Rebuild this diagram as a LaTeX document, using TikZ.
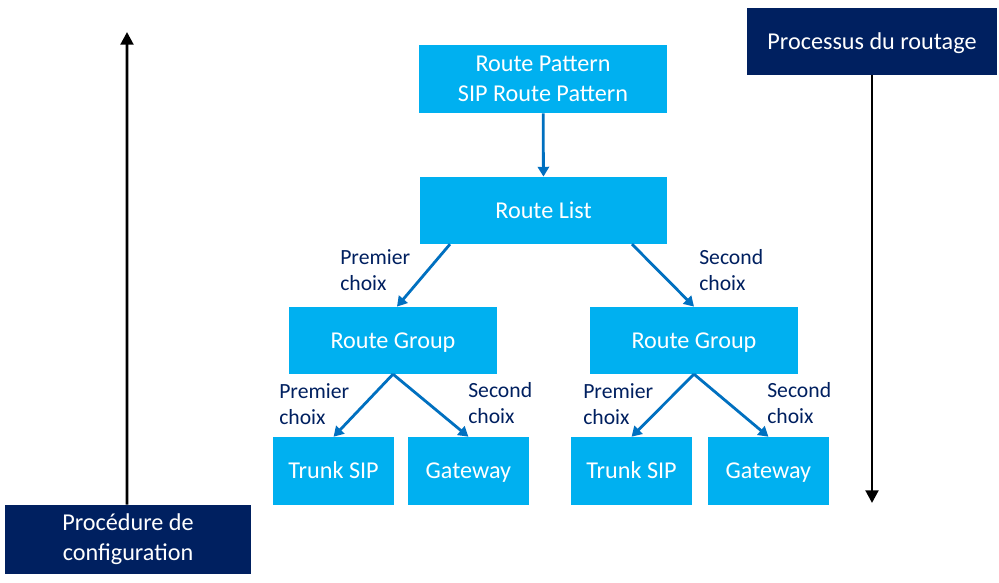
\documentclass[tikz,border=0pt]{standalone}
\usepackage{fontspec}
\setmainfont{Carlito}
\usetikzlibrary{arrows.meta,positioning}
\definecolor{boxcyan}{HTML}{00B0F0}
\definecolor{navyblue}{HTML}{002060}
\definecolor{arrblue}{HTML}{0070C0}

\begin{document}
\begin{tikzpicture}[
    elem/.style={fill=boxcyan, text=white, minimum width=5.2cm, minimum height=1.675cm, align=center, inner sep=0pt, font=\fontsize{17.2}{21.3}\selectfont},
    oneline/.style={text height=15pt, text depth=4pt},
    leaf/.style={elem, oneline, minimum width=3.025cm, minimum height=1.7cm},
    phase/.style={fill=navyblue, text=white, minimum height=1.7cm, align=center, inner sep=0pt, font=\fontsize{17.2}{21.3}\selectfont},
    arr/.style={-{Triangle[length=7pt, width=8pt]}, line width=2pt, arrblue},
    flow/.style={-{Triangle[length=9pt, width=9pt]}, line width=2.1pt, black},
    lbl/.style={anchor=west, align=left, inner sep=0pt, text=navyblue, font=\fontsize{15.4}{18.5}\selectfont}
]
\useasboundingbox (0,0) rectangle (24.975,14.55);
\fill[white] (0,0) rectangle (24.975,14.55);

\node[elem, minimum width=6.2cm, minimum height=1.7cm] (RP) at (13.575,12.575) {Route Pattern\\SIP Route Pattern};
\node[elem, oneline, minimum width=6.175cm] (RL) at (13.59,9.29) {Route List};
\node[elem, oneline] (RG1) at (9.825,6.04) {Route Group};
\node[elem, oneline] (RG2) at (17.35,6.04) {Route Group};
\node[leaf] (T1) at (8.34,2.775) {Trunk SIP};
\node[leaf] (G1) at (11.71,2.775) {Gateway};
\node[leaf] (T2) at (15.79,2.775) {Trunk SIP};
\node[leaf] (G2) at (19.21,2.775) {Gateway};

\node[phase, minimum width=6.15cm, minimum height=1.725cm] (conf) at (3.2,1.0625) {Procédure de\\configuration};
\node[phase, oneline, minimum width=6.25cm, minimum height=1.675cm] (rout) at (21.8,13.5125) {Processus du routage};
\coordinate (conftop) at (3.175,13.75);
\coordinate (routbot) at (21.8,1.975);

\node[lbl] (l1) at (8.5,7.8) {Premier\\choix};
\node[lbl] (l2) at (17.475,7.8) {Second\\choix};
\node[lbl] (l3) at (6.975,4.44) {Premier\\choix};
\node[lbl] (l4) at (11.7,4.475) {Second\\choix};
\node[lbl] (l5) at (14.575,4.44) {Premier\\choix};
\node[lbl] (l6) at (19.175,4.475) {Second\\choix};

\draw[arr] (RP) -- (RL);
\draw[arr] ([xshift=-2.34cm]RL.south) -- ([xshift=0.1cm]RG1.north);
\draw[arr] ([xshift=2.21cm]RL.south) -- (RG2.north);
\draw[arr] (RG1.south) -- (T1.north);
\draw[arr] (RG1.south) -- (G1.north);
\draw[arr] (RG2.south) -- (T2.north);
\draw[arr] (RG2.south) -- (G2.north);

\draw[flow] ([xshift=-0.025cm]conf.north) -- (conftop);
\draw[flow] (rout.south) -- (routbot);
\end{tikzpicture}
\end{document}
